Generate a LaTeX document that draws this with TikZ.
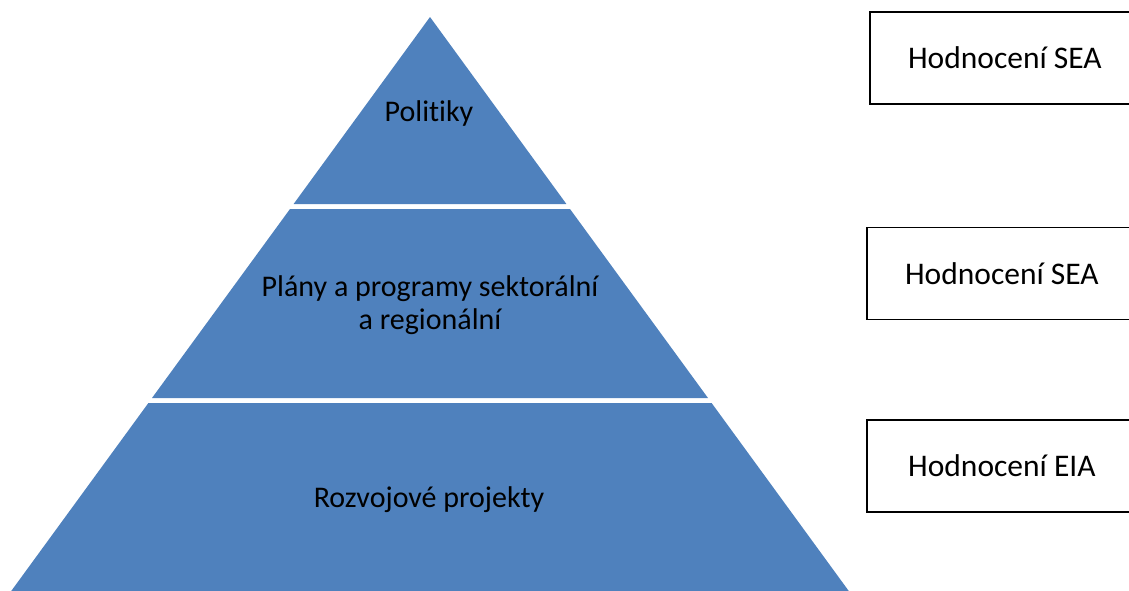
\documentclass[tikz,border=0pt]{standalone}
\usepackage{fontspec}
\setmainfont[Ligatures=NoCommon]{Carlito}
\usepackage{xcolor}
\usepackage{tikz}
\usetikzlibrary{positioning}

\definecolor{pyrblue}{HTML}{4F81BD}

\tikzset{
    layer/.style={fill=pyrblue, draw=none},
    layertext/.style={font=\fontsize{30}{33.5}\selectfont, align=center,
        text=black, inner sep=0pt},
    evalbox/.style={draw=black, line width=1.8pt, fill=white,
        minimum width=270pt, minimum height=92pt, anchor=west, inner sep=0pt,
        font=\fontsize{31.5}{38}\selectfont, text height=21pt, text depth=0pt}
}

\begin{document}
\begin{tikzpicture}[x=1pt, y=-1pt]

        \useasboundingbox (0,0) rectangle (1129,590);
        \clip (0,0) rectangle (1129,590);

        % Layers of the pyramid, with white gaps between them
        \begin{scope}
            \fill[layer] (430,17) -- (566.4,204) -- (293.6,204) -- cycle;
            \fill[layer] (290,209) -- (570,209) -- (708,398) -- (152,398) -- cycle;
            \fill[layer] (148.4,403) -- (711.6,403) -- (849.5,592) -- (10.5,592) -- cycle;
        \end{scope}

        \node[layertext, anchor=base] (pol) at (429,121) {Politiky};
        \node[layertext] (plan) at (430,305)
        {Plány a programy sektorální\\a regionální};
        \node[layertext, anchor=base] (proj) at (429,507) {Rozvojové projekty};

        % Assessment boxes on the right
        \node[evalbox] (sea1) at (869,58) {Hodnocení SEA};
        \node[evalbox] (sea2) at (866,273.5) {Hodnocení SEA};
        \node[evalbox] (eia) at (866,466) {Hodnocení EIA};

\end{tikzpicture}
\end{document}
